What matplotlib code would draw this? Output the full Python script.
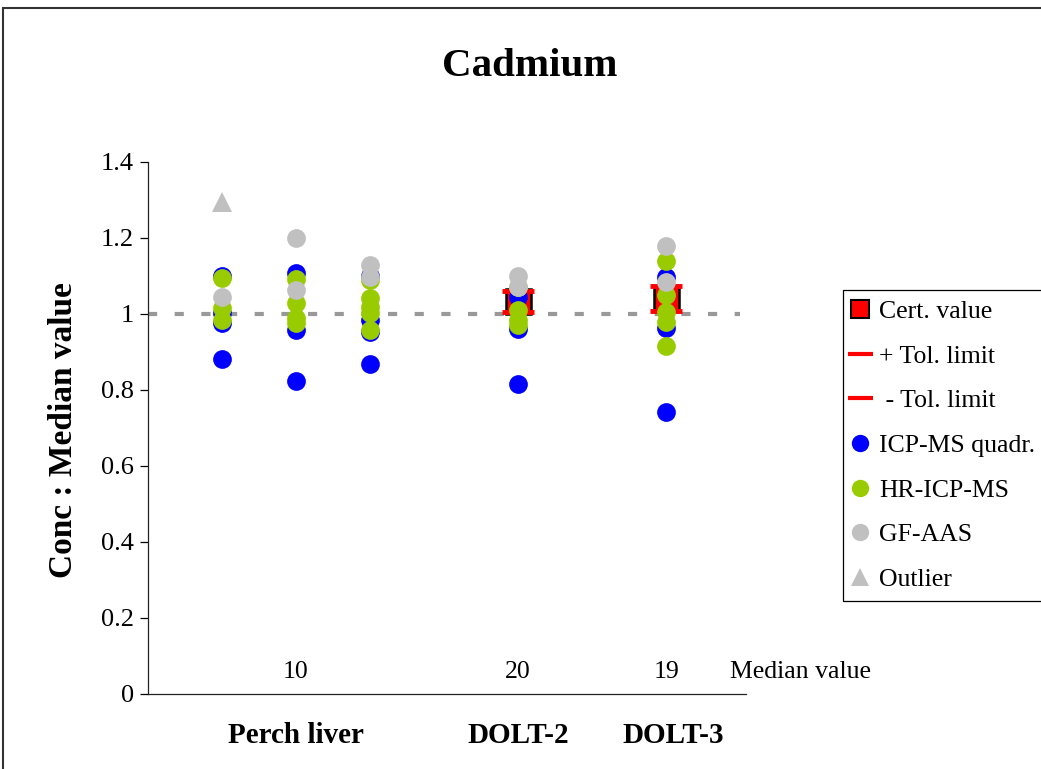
import matplotlib
matplotlib.use("Agg")
import matplotlib.pyplot as plt
from matplotlib.lines import Line2D
from matplotlib.patches import Rectangle

plt.rcParams.update({
    "font.family": "serif",
    "font.serif": ["Liberation Serif", "DejaVu Serif"],
    "font.size": 18.5,
})

# sample positions on the category axis
sample_names = ["Perch liver", "DOLT-2", "DOLT-3"]
sample_name_x = [2, 5, 7.1]
median_x = [2, 5, 7]
median_labels = ["10", "20", "19"]

# certified reference values and tolerance limits (ratio to median)
cert_x = [5, 7]
cert_y = [1.034, 1.041]
tol_hi_y = [1.061, 1.074]
tol_lo_y = [1.006, 1.008]

# ICP-MS quadrupole results
icp_x = [1, 1, 1, 1, 2, 2, 2, 3, 3, 3, 3, 5, 5, 5, 7, 7, 7]
icp_y = [1.101, 1.002, 0.977, 0.882,
         1.107, 0.958, 0.824,
         1.100, 0.985, 0.953, 0.868,
         1.045, 0.960, 0.815,
         1.098, 0.963, 0.743]

# HR-ICP-MS results
hr_x = [1, 1, 1, 2, 2, 2, 2, 3, 3, 3, 3, 3, 5, 5, 5, 5, 7, 7, 7, 7, 7]
hr_y = [1.096, 1.015, 0.984,
        1.091, 1.028, 0.990, 0.976,
        1.089, 1.041, 1.019, 1.002, 0.958,
        1.070, 1.011, 0.984, 0.972,
        1.140, 1.050, 1.006, 0.980, 0.916]

# GF-AAS results
gf_x = [1, 2, 2, 3, 3, 5, 5, 7, 7]
gf_y = [1.046, 1.201, 1.063, 1.129, 1.098, 1.101, 1.072, 1.180, 1.085]

outlier_x = [1]
outlier_y = [1.296]

ref_x = [0, 8]
ref_y = [1, 1]

BLUE = "#0000ff"
GREEN = "#99cc00"
GREY = "#c0c0c0"
RED = "#ff0000"

W, H = 1041, 769
fig = plt.figure(figsize=(W / 100, H / 100), dpi=100)
ax = fig.add_axes([148 / W, 1 - 694 / H, 598 / W, 532 / H])

ax.plot(ref_x, ref_y, color="#999999", lw=3, dashes=[2.2, 4.2], zorder=1,
        solid_capstyle="butt", dash_capstyle="butt")
ax.plot(cert_x, cert_y, ls="none", marker="s", ms=18, mfc=RED, mec="black",
        mew=1.8, zorder=2)
ax.plot(cert_x, tol_hi_y, ls="none", marker="_", ms=23, mec=RED, mew=3.5, zorder=3)
ax.plot(cert_x, tol_lo_y, ls="none", marker="_", ms=23, mec=RED, mew=3.5, zorder=3)
ax.plot(icp_x, icp_y, ls="none", marker="o", ms=13.5, mfc=BLUE, mec=BLUE, mew=0, zorder=4)
ax.plot(hr_x, hr_y, ls="none", marker="o", ms=13.5, mfc=GREEN, mec=GREEN, mew=0, zorder=5)
ax.plot(gf_x, gf_y, ls="none", marker="o", ms=13.5, mfc=GREY, mec=GREY, mew=0, zorder=6)
ax.plot(outlier_x, outlier_y, ls="none", marker="^", ms=14, mfc=GREY, mec=GREY,
        mew=0, zorder=7)

ax.set_xlim(0, 8.08)
ax.set_ylim(0, 1.4)
ax.set_yticks([0, 0.2, 0.4, 0.6, 0.8, 1.0, 1.2, 1.4])
ax.set_yticklabels(["0", "0.2", "0.4", "0.6", "0.8", "1", "1.2", "1.4"])
ax.set_xticks([])
ax.tick_params(axis="y", direction="out", length=6, width=0.9, pad=4,
               labelsize=19)
for side in ("top", "right"):
    ax.spines[side].set_visible(False)
for side in ("left", "bottom"):
    ax.spines[side].set_linewidth(0.9)
    ax.spines[side].set_color("#222222")

for x, lbl in zip(median_x, median_labels):
    ax.text(x, 0.058, lbl, ha="center", va="center", fontsize=18.5)
ax.text(7.86, 0.058, "Median value", ha="left", va="center", fontsize=18.5,
        clip_on=False)
for x, name in zip(sample_name_x, sample_names):
    ax.text(x, -0.108, name, ha="center", va="center", fontsize=21,
            fontweight="bold", clip_on=False)

fig.text(530 / W, 1 - 67 / H, "Cadmium", ha="center", va="center",
         fontsize=29.5, fontweight="bold")
fig.text(64 / W, 1 - 430 / H, "Conc : Median value", ha="center", va="center",
         rotation=90, fontsize=24, fontweight="bold")

handles = [
    Line2D([], [], ls="none", marker="s", ms=12.5, mfc=RED, mec="black", mew=1.5),
    Line2D([], [], ls="none", marker="_", ms=18, mec=RED, mew=3),
    Line2D([], [], ls="none", marker="_", ms=18, mec=RED, mew=3),
    Line2D([], [], ls="none", marker="o", ms=12.5, mfc=BLUE, mec=BLUE, mew=0),
    Line2D([], [], ls="none", marker="o", ms=12.5, mfc=GREEN, mec=GREEN, mew=0),
    Line2D([], [], ls="none", marker="o", ms=12.5, mfc=GREY, mec=GREY, mew=0),
    Line2D([], [], ls="none", marker="^", ms=13, mfc=GREY, mec=GREY, mew=0),
]
labels = ["Cert. value", "+ Tol. limit", " - Tol. limit", "ICP-MS quadr.",
          "HR-ICP-MS", "GF-AAS", "Outlier"]
leg = fig.legend(handles, labels, loc="upper left",
                 bbox_to_anchor=(843 / W, 1 - 290 / H), borderaxespad=0,
                 fontsize=18.5, frameon=True, fancybox=False, shadow=False,
                 edgecolor="black", framealpha=1, handlelength=0.5,
                 handletextpad=0.5, borderpad=0.4, labelspacing=0.84)
leg.get_frame().set_linewidth(0.9)

# outer chart-area border
fig.add_artist(Rectangle((3 / W, -0.1), 1.2, 1.1 - 8 / H, fill=False,
                         edgecolor="#333333", lw=1.5, transform=fig.transFigure,
                         clip_on=False))

fig.savefig("out.png", dpi=100, facecolor="white")
